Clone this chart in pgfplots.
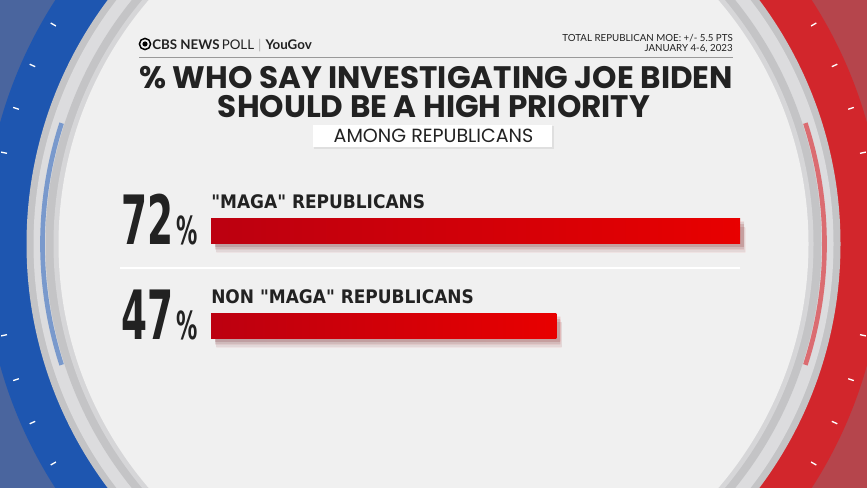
\documentclass[border=0pt]{standalone}
\usepackage{pgfplots}
\pgfplotsset{compat=1.18}
\usepackage{fontspec}
\setmainfont{Lato}
\newfontfamily\titlefont{Poppins}
\newfontfamily\numfont[FakeStretch=0.55]{DejaVu Sans}
\newfontfamily\catfont[FakeStretch=0.91]{DejaVu Sans}
\usetikzlibrary{shadows}
\definecolor{outblue}{HTML}{4A659E}
\definecolor{ringblue}{HTML}{1E56B0}
\definecolor{outred}{HTML}{B5454C}
\definecolor{ringred}{HTML}{D2262C}
\definecolor{centerbg}{HTML}{F0F0F0}
\definecolor{silverA}{HTML}{DCDCDE}
\definecolor{silverB}{HTML}{C4C4C6}
\definecolor{silverC}{HTML}{D6D6D8}
\definecolor{barL}{HTML}{BC0010}
\definecolor{barM}{HTML}{DE0004}
\definecolor{barR}{HTML}{E80000}
\definecolor{titlec}{HTML}{222222}
\pgfplotsset{redbar/.style={xbar, bar shift=0pt, draw=none, left color=barL, middle color=barM, right color=barR,
  drop shadow={shadow xshift=3pt, shadow yshift=-2.5pt, opacity=0.07, fill=black},
  drop shadow={shadow xshift=3pt, shadow yshift=-4.5pt, opacity=0.07, fill=black},
  drop shadow={shadow xshift=4pt, shadow yshift=-6.5pt, opacity=0.05, fill=black}}}
\begin{document}
\begin{tikzpicture}
\begin{scope}[x=0.75pt,y=-0.75pt]
\clip (0,0) rectangle (867,488);
\fill[outblue] (0,0) rectangle (433.5,488);
\fill[outred] (433.5,0) rectangle (867,488);
\begin{scope}
\clip (0,0) rectangle (433.5,488);
\fill[ringblue] (433.5,244) circle (450);
\end{scope}
\begin{scope}
\clip (433.5,0) rectangle (867,488);
\fill[ringred] (433.5,244) circle (450);
\end{scope}
\foreach \a in {138,144,...,222} {\draw[white, line width=1pt, shift={(433.5,244)}] (\a:436) -- (\a:442);}
\foreach \a in {-42,-36,...,42} {\draw[white, line width=1pt, shift={(433.5,244)}] (\a:436) -- (\a:442);}
\fill[silverB] (433.5,244) circle (407);
\fill[silverA] (433.5,244) circle (400);
\fill[silverB] (433.5,244) circle (388);
\fill[silverC] (433.5,244) circle (380);
\fill[centerbg] (433.5,244) circle (375);
\draw[ringblue!70!white, opacity=0.8, line width=3.5pt, shift={(433.5,244)}] (162:391) arc[start angle=162, end angle=198, radius=391];
\draw[ringred!80!white, opacity=0.8, line width=3.5pt, shift={(433.5,244)}] (-18:391) arc[start angle=-18, end angle=18, radius=391];
% header
\draw[black, line width=1.1pt] (145,44) circle (5.6);
\fill[black] (145,44) circle (2.6);
\node[anchor=base west, inner sep=0, font=\fontsize{10}{10}\selectfont, text=titlec] at (152,49.5) {\textbf{CBS NEWS}\,POLL\hspace{3pt}\textcolor{gray!60}{|}\hspace{3pt}\textbf{YouGov}};
\node[anchor=base east, inner sep=0, font=\fontsize{7.3}{7.3}\selectfont, text=titlec] at (733,41.5) {TOTAL REPUBLICAN MOE: +/- 5.5 PTS};
\node[anchor=base east, inner sep=0, font=\fontsize{7.3}{7.3}\selectfont, text=titlec] at (733,51.5) {JANUARY 4-6, 2023};
\draw[gray!80, line width=0.8pt] (139,57.5) -- (733,57.5);
\node[anchor=base, inner sep=0, font=\titlefont\bfseries\fontsize{23.3}{23.3}\selectfont, text=titlec] at (436,89) {\% WHO SAY INVESTIGATING JOE BIDEN};
\node[anchor=base, inner sep=0, font=\titlefont\bfseries\fontsize{23.3}{23.3}\selectfont, text=titlec] at (434,117.5) {SHOULD BE A HIGH PRIORITY};
\fill[black, opacity=0.07] (314,126) rectangle (554,149);
\fill[white] (313,125) rectangle (552,147);
\node[anchor=base, inner sep=0, font=\titlefont\fontsize{14.3}{14.3}\selectfont, text=titlec] at (433.5,143) {AMONG REPUBLICANS};
\draw[white, line width=1.5pt] (120,268) -- (740,268);
\end{scope}
\begin{axis}[at={(158.25pt,-280.125pt)}, anchor=south west, scale only axis,
  width=396.75pt, height=142.5pt, xmin=0, xmax=72, ymin=-0.5, ymax=1.5,
  hide axis, clip=false, xbar, bar width=18.75pt]
\addplot[redbar] coordinates {(72,1)};
\addplot[redbar] coordinates {(47,0)};
\node[anchor=base west, inner sep=0, font=\catfont\bfseries\fontsize{14}{14}\selectfont, text=titlec] at ([yshift=16.9pt]axis cs:0,1) {"MAGA" REPUBLICANS};
\node[anchor=base west, inner sep=0, font=\catfont\bfseries\fontsize{14}{14}\selectfont, text=titlec] at ([yshift=16.9pt]axis cs:0,0) {NON "MAGA" REPUBLICANS};
\node[anchor=base east, inner sep=0, text=titlec] at ([xshift=-9.75pt, yshift=-10.1pt]axis cs:0,1) {\numfont\bfseries\fontsize{51}{51}\selectfont 72\hspace{2pt}\fontsize{29}{29}\selectfont\%};
\node[anchor=base east, inner sep=0, text=titlec] at ([xshift=-9.75pt, yshift=-10.1pt]axis cs:0,0) {\numfont\bfseries\fontsize{51}{51}\selectfont 47\hspace{2pt}\fontsize{29}{29}\selectfont\%};
\end{axis}
\end{tikzpicture}
\end{document}
